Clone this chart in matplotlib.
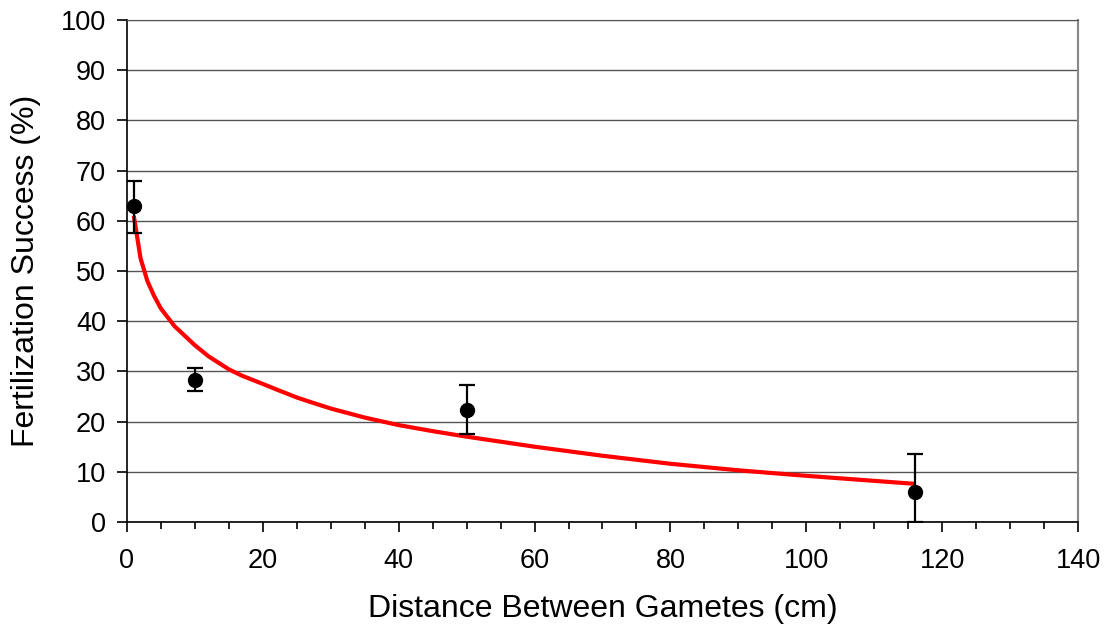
import numpy as np
import matplotlib.pyplot as plt
from matplotlib.ticker import MultipleLocator

plt.rcParams['font.family'] = ['Liberation Sans', 'DejaVu Sans']

# measured fertilization success
distance = [1, 10, 50, 116]
success = [63, 28.3, 22.3, 6]
err_low = [5.5, 2.3, 4.8, 6]
err_high = [5, 2.4, 4.9, 7.5]

# fitted curve
fit_x = [1, 2, 3, 4, 5, 7, 10, 12, 15, 17, 20, 22, 25, 27, 30, 35, 40, 45, 50, 60, 70, 80, 90, 100, 110, 116]
fit_y = [61, 52.5, 48, 45, 42.5, 39, 35.2, 33, 30.4, 29.1, 27.5, 26.4, 24.8, 23.9, 22.6, 20.8, 19.3, 18.1, 17, 15, 13.2, 11.6, 10.3, 9.2, 8.2, 7.6]

fig = plt.figure(figsize=(11.11, 6.30), dpi=100)
ax = fig.add_axes([0.1143, 0.1714, 0.856, 0.797])

ax.plot(fit_x, fit_y, color='#ff0000', lw=3, zorder=3, solid_capstyle='butt')
ax.errorbar(distance, success, yerr=[err_low, err_high], fmt='o', color='black',
            ms=10, elinewidth=1.6, capsize=6, capthick=1.6, zorder=4)

ax.set_xlim(0, 140)
ax.set_ylim(0, 100)
ax.xaxis.set_major_locator(MultipleLocator(20))
ax.xaxis.set_minor_locator(MultipleLocator(5))
ax.yaxis.set_major_locator(MultipleLocator(10))

ax.grid(axis='y', color='#555555', lw=1)
ax.set_axisbelow(True)
ax.spines['top'].set_color('#555555')
ax.spines['right'].set_color('#888888')
ax.spines['right'].set_linewidth(1.5)
ax.spines['left'].set_linewidth(1.2)
ax.spines['bottom'].set_linewidth(1.2)

ax.tick_params(axis='both', which='major', direction='out', length=7, width=1.2, labelsize=19.5, pad=8)
ax.tick_params(axis='x', which='major', pad=12)
ax.tick_params(axis='x', which='minor', direction='out', length=5, width=1.2)

ax.set_xlabel('Distance Between Gametes (cm)', fontsize=23, labelpad=14)
ax.set_ylabel('Fertilization Success (%)', fontsize=23, labelpad=14)

fig.savefig('out.png', dpi=100)
